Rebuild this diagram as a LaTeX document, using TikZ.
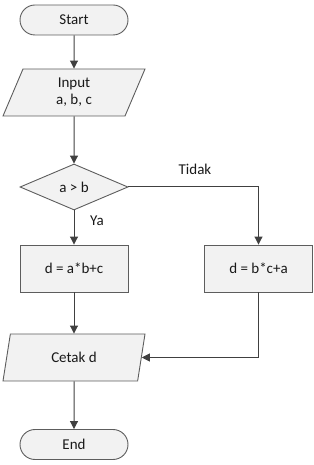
\documentclass[tikz,border=0pt]{standalone}
\usepackage{fontspec}
\setmainfont{Carlito}
\usepackage{tikz}
\usetikzlibrary{shapes.geometric,arrows.meta,calc}
\definecolor{lineclr}{HTML}{404040}
\definecolor{boxfill}{HTML}{F2F2F2}

\begin{document}
\begin{tikzpicture}[x=1pt,y=1pt,font=\fontsize{15}{17}\selectfont,
  every node/.style={draw=lineclr!85,line width=0.9pt,fill=boxfill,text=black!90,align=center},
  term/.style={rounded corners=15pt,minimum width=108pt,minimum height=30pt},
  io/.style={trapezium,trapezium left angle=55,trapezium right angle=125,
    trapezium stretches body,minimum width=142pt,minimum height=47pt,inner sep=0pt},
  proc/.style={rectangle,minimum width=108pt,minimum height=47pt},
  decide/.style={diamond,aspect=2.35,minimum width=108pt,minimum height=46pt,inner sep=0pt},
  lbl/.style={draw=none,fill=none},
  flow/.style={draw=lineclr,line width=1pt,-{Triangle[length=8pt,width=8pt]}}]
  \useasboundingbox (0,0) rectangle (313,465);
  \node[term] (start) at (74,445) {Start};
  \node[io] (input) at (74,372.5) {Input\\a, b, c};
  \node[decide] (cmp) at (74,278) {a > b};
  \node[proc] (calcA) at (74,196.5) {d = a*b+c};
  \node[proc] (calcB) at (258.5,196.5) {d = b*c+a};
  \node[io] (print) at (74,107.5) {Cetak d};
  \node[term] (stop) at (74,20.5) {End};
  \node[lbl] at (195,296) {Tidak};
  \node[lbl] at (97,244) {Ya};
  \coordinate (printR) at ($(print.top right corner)!0.5!(print.bottom right corner)$);
  \draw[flow] (start) -- (input);
  \draw[flow] (input) -- (cmp);
  \draw[flow] (cmp) -- (calcA);
  \draw[flow] (cmp.east) -| (calcB.north);
  \draw[flow] (calcA) -- (print);
  \draw[flow] (calcB.south) |- (printR);
  \draw[flow] (print) -- (stop);
\end{tikzpicture}
\end{document}
